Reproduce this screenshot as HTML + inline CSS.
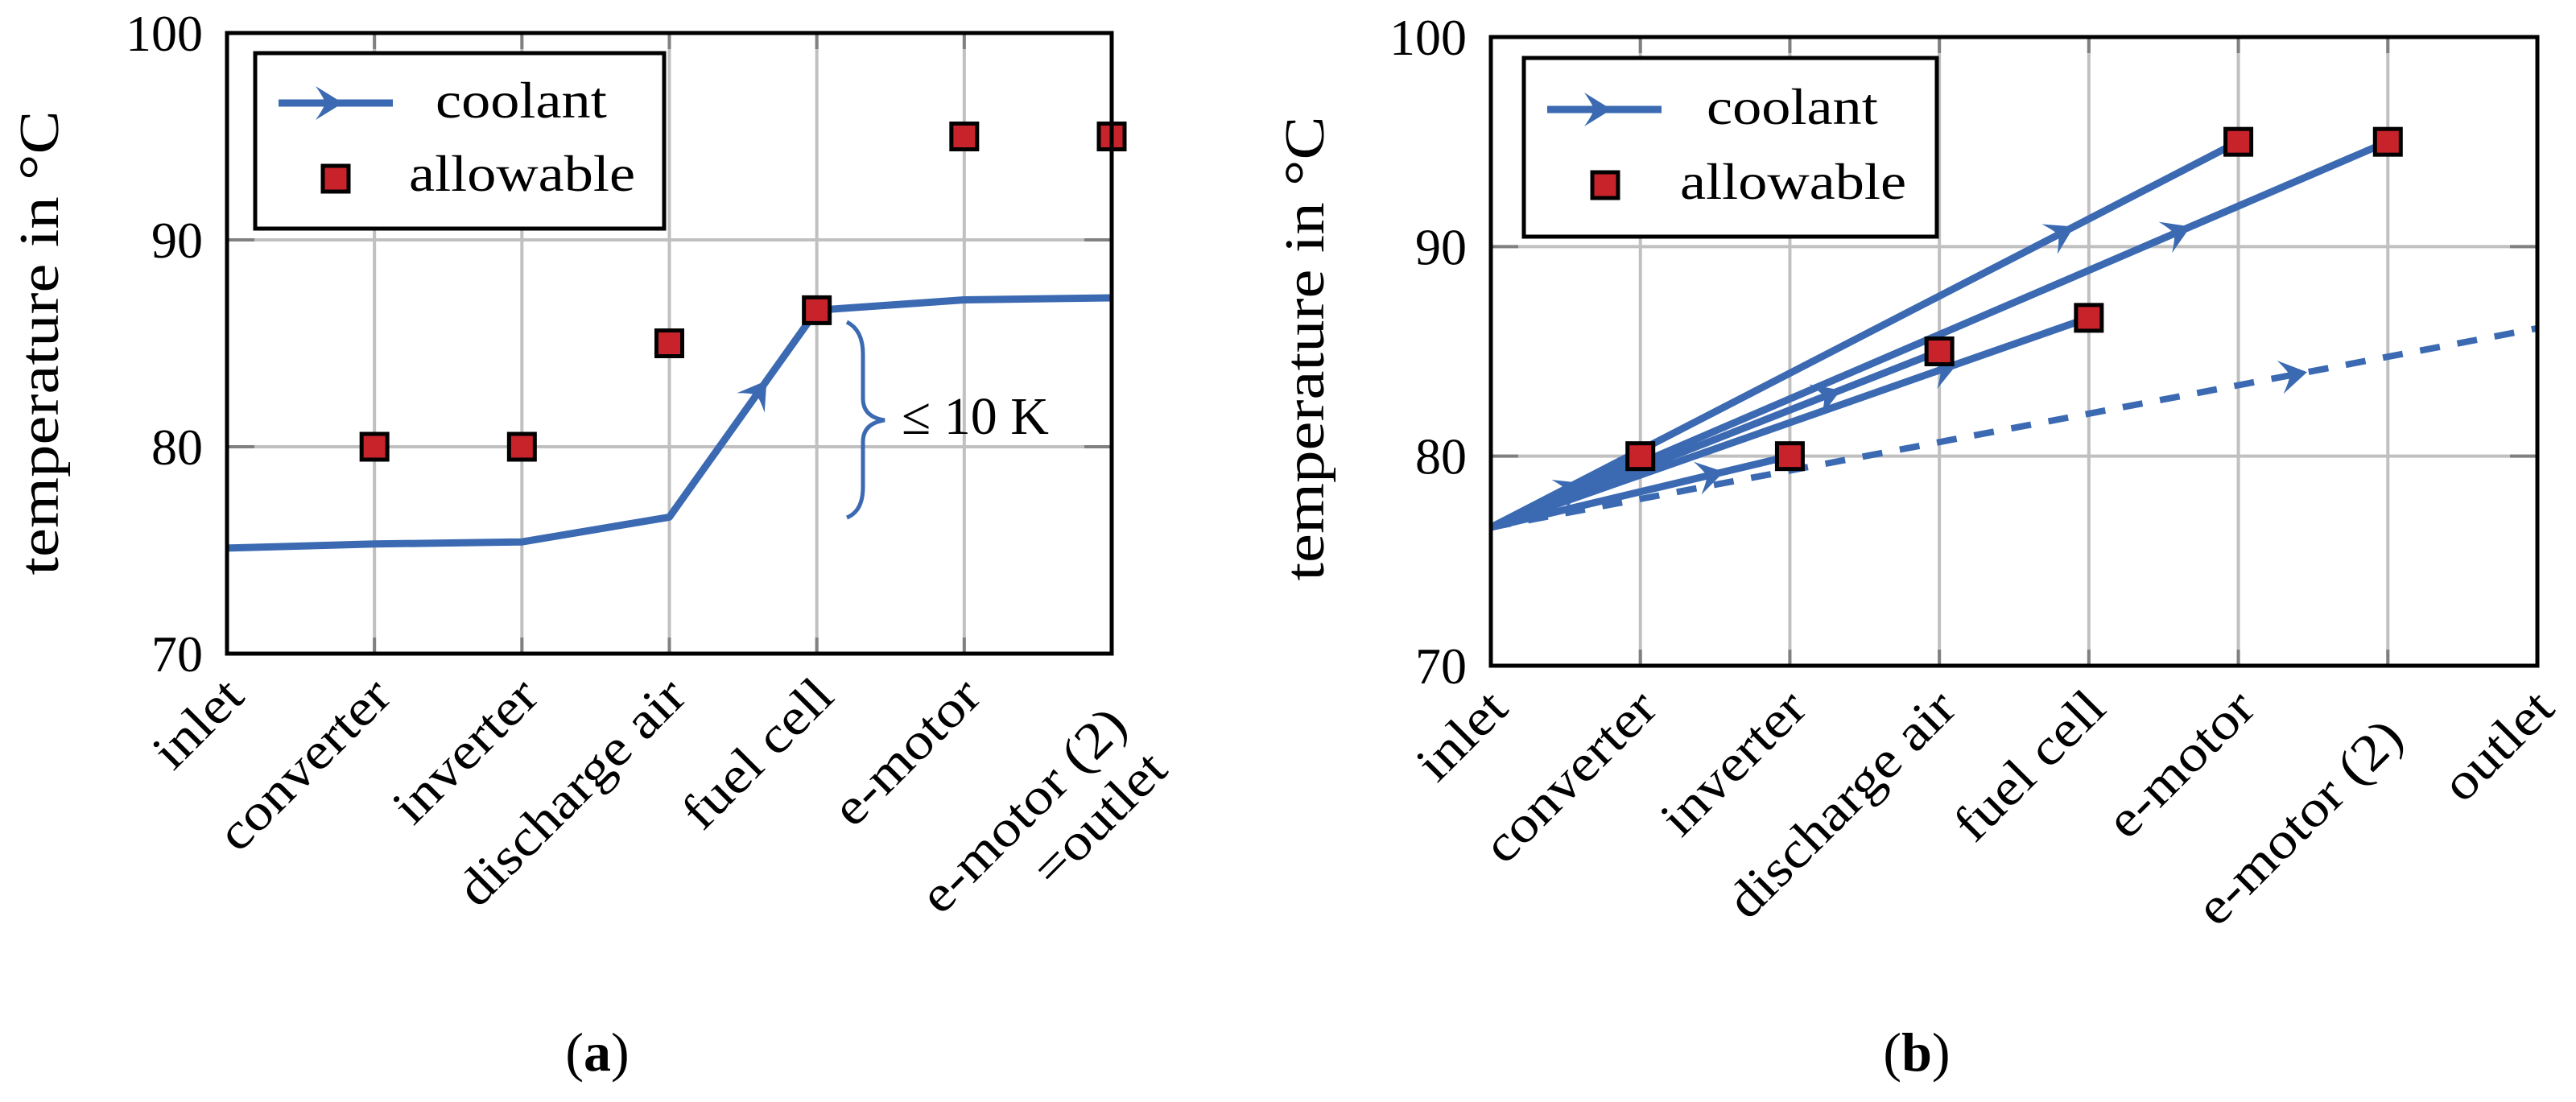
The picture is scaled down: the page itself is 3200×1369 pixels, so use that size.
<!DOCTYPE html>
<html><head><meta charset="utf-8"><style>
html,body{margin:0;padding:0;background:#fff;}
svg{display:block;}
text{font-family:"Liberation Serif",serif;fill:#000;}
</style></head><body>
<svg id="fig" width="3200" height="1369" viewBox="0 0 3200 1369" xmlns="http://www.w3.org/2000/svg"></svg>
<script>
// ---------- Panel (a) data ----------
const catsA = ['inlet','converter','inverter','discharge air','fuel cell','e-motor','e-motor (2)|=outlet'];
const coolantA = [75.1, 75.3, 75.4, 76.6, 86.6, 87.1, 87.2];
const allowA = [null, 80, 80, 85, 86.6, 95, 95];
const yTicksA = [70, 80, 90, 100];
// ---------- Panel (b) data ----------
const catsB = ['inlet','converter','inverter','discharge air','fuel cell','e-motor','e-motor (2)','outlet'];
const inletB = 76.6;
const endIdxB = [5, 6, 4, 3, 1, 2, 7];
const endValB = [95, 95, 86.6, 85, 80, 80, 86.1];
const dashedB = [false, false, false, false, false, false, true];
const allowB = [null, 80, 80, 85, 86.6, 95, 95, null];
const yTicksB = [70, 80, 90, 100];

const NS = 'http://www.w3.org/2000/svg';
const svg = document.getElementById('fig');
const BLUE = '#3b6ab2', RED = '#c8232a', GRID = '#c0c0c0';
function el(tag, attrs, parent) {
  const e = document.createElementNS(NS, tag);
  for (const k in attrs) e.setAttribute(k, attrs[k]);
  (parent || svg).appendChild(e);
  return e;
}
function arrowHead(g, x, y, ang) {
  const a = el('path', {d: 'M0,0 L-34,-21 Q-24,-7 -22,0 Q-24,7 -34,21 Z', fill: BLUE,
    transform: `translate(${x},${y}) rotate(${ang})`}, g);
  
  
}
function marker(g, x, y) {
  const m = el('rect', {x: x - 16, y: y - 16, width: 32, height: 32, fill: RED, stroke: '#000', 'stroke-width': 5}, g);
  
  
}

function panel(cfg) {
  const {L, R, T, B, cats, ticks, name} = cfg;
  const g = el('g', {});
  
  
  const n = cats.length - 1;
  const X = i => L + (R - L) * i / n;
  const Y = v => B - (B - T) * (v - 70) / 30;
  for (let i = 1; i < n; i++) {
    const gl = el('line', {x1: X(i), y1: T, x2: X(i), y2: B, stroke: GRID, 'stroke-width': 4}, g);
    
    
    el('line', {x1: X(i), y1: T, x2: X(i), y2: T + 20, stroke: '#808080', 'stroke-width': 4}, g);
    el('line', {x1: X(i), y1: B, x2: X(i), y2: B - 20, stroke: '#808080', 'stroke-width': 4}, g);
  }
  ticks.forEach(v => {
    if (v > 70 && v < 100) {
      const gl = el('line', {x1: L, y1: Y(v), x2: R, y2: Y(v), stroke: GRID, 'stroke-width': 4}, g);
      
      
      el('line', {x1: L, y1: Y(v), x2: L + 34, y2: Y(v), stroke: '#808080', 'stroke-width': 4}, g);
      el('line', {x1: R, y1: Y(v), x2: R - 34, y2: Y(v), stroke: '#808080', 'stroke-width': 4}, g);
    }
    const t = el('text', {x: L - 30, y: Y(v) + 22, 'text-anchor': 'end', 'font-size': 64}, g);
    t.textContent = v;
    
    
  });
  cats.forEach((c, i) => {
    const lines = c.split('|');
    let dx = 24, dy = 56;
    if (c.indexOf('(2)') >= 0) { dx = 22; dy = 92; }
    lines.forEach((ln, k) => {
      const t = el('text', {'text-anchor': 'end', 'font-size': 64,
        transform: `translate(${X(i) + dx + k * 50},${B + dy + k * 55}) rotate(-45) scale(1.13,1)`}, g);
      t.textContent = ln;
      
      
    });
  });
  return {g, X, Y};
}
function frame(g, L, R, T, B) {
  const f = el('rect', {x: L, y: T, width: R - L, height: B - T, fill: 'none', stroke: '#000', 'stroke-width': 5}, g);
  
  
}
function legend(g, x, y, w, h, lx, ly, tx1, by1, mx, my, tx2, by2) {
  const lg = el('g', {}, g);
  
  
  el('rect', {x, y, width: w, height: h, fill: '#fff', stroke: '#000', 'stroke-width': 5}, lg);
  const ln = el('line', {x1: lx, y1: ly, x2: lx + 142, y2: ly, stroke: BLUE, 'stroke-width': 9}, lg);
  
  
  arrowHead(lg, lx + 80, ly, 0);
  const t1 = el('text', {'font-size': 64, transform: `translate(${tx1},${by1}) scale(1.13,1)`}, lg);
  t1.textContent = 'coolant';
  
  
  marker(lg, mx, my);
  const t2 = el('text', {'font-size': 64, transform: `translate(${tx2},${by2}) scale(1.13,1)`}, lg);
  t2.textContent = 'allowable';
  
  
}
function yTitle(x, y) {
  const t = el('text', {'font-size': 70, 'text-anchor': 'middle', textLength: 577, lengthAdjust: 'spacingAndGlyphs',
    transform: `translate(${x},${y}) rotate(-90)`});
  t.textContent = 'temperature in °C';
  
  
}

// ===== Panel (a) =====
(function () {
  const L = 282, R = 1381, T = 41, B = 812;
  const {g, X, Y} = panel({L, R, T, B, cats: catsA, ticks: yTicksA, name: 'panel-a'});
  const pts = coolantA.map((v, i) => `${X(i)},${Y(v)}`).join(' ');
  const pl = el('polyline', {points: pts, fill: 'none', stroke: BLUE, 'stroke-width': 9, 'stroke-linejoin': 'round'}, g);
  
  
  const x0 = X(3), y0 = Y(coolantA[3]), x1 = X(4), y1 = Y(coolantA[4]);
  const f = 0.66;
  arrowHead(g, x0 + (x1 - x0) * f, y0 + (y1 - y0) * f, Math.atan2(y1 - y0, x1 - x0) * 180 / Math.PI);
  allowA.forEach((v, i) => { if (v !== null) marker(g, X(i), Y(v)); });
  const br = el('path', {d: 'M1052,400 Q1072,410 1072,440 L1072,495 Q1072,518 1099,522 Q1072,526 1072,549 L1072,605 Q1072,635 1052,643',
    fill: 'none', stroke: BLUE, 'stroke-width': 5}, g);
  
  
  const at = el('text', {x: 1120, y: 539, 'font-size': 66}, g);
  at.textContent = '≤ 10 K';
  
  
  frame(g, L, R, T, B);
  legend(g, 317, 66, 508, 218, 346, 128, 541, 146, 417, 222, 508, 237);
  yTitle(72, 426);
  const cap = el('text', {x: 742, y: 1330, 'font-size': 68, 'text-anchor': 'middle'});
  cap.innerHTML = '(<tspan font-weight="bold">a</tspan>)';
  
  
})();

// ===== Panel (b) =====
(function () {
  const L = 1852, R = 3152, T = 46, B = 827;
  const {g, X, Y} = panel({L, R, T, B, cats: catsB, ticks: yTicksB, name: 'panel-b'});
  endIdxB.forEach((ei, k) => {
    const x0 = X(0), y0 = Y(inletB), x1 = X(ei), y1 = Y(endValB[k]);
    const ln = el('line', {x1: x0, y1: y0, x2: x1, y2: y1, stroke: BLUE, 'stroke-width': dashedB[k] ? 8 : 9}, g);
    if (dashedB[k]) ln.setAttribute('stroke-dasharray', '25 22');
    
    
    const f = ei === 1 ? 0.62 : 0.78;
    arrowHead(g, x0 + (x1 - x0) * f, y0 + (y1 - y0) * f, Math.atan2(y1 - y0, x1 - x0) * 180 / Math.PI);
  });
  allowB.forEach((v, i) => { if (v !== null) marker(g, X(i), Y(v)); });
  frame(g, L, R, T, B);
  legend(g, 1893, 72, 513, 222, 1922, 136, 2120, 154, 1994, 230, 2087, 247);
  yTitle(1644, 433);
  const cap = el('text', {x: 2381, y: 1330, 'font-size': 68, 'text-anchor': 'middle'});
  cap.innerHTML = '(<tspan font-weight="bold">b</tspan>)';
  
  
})();
</script>
</body></html>
